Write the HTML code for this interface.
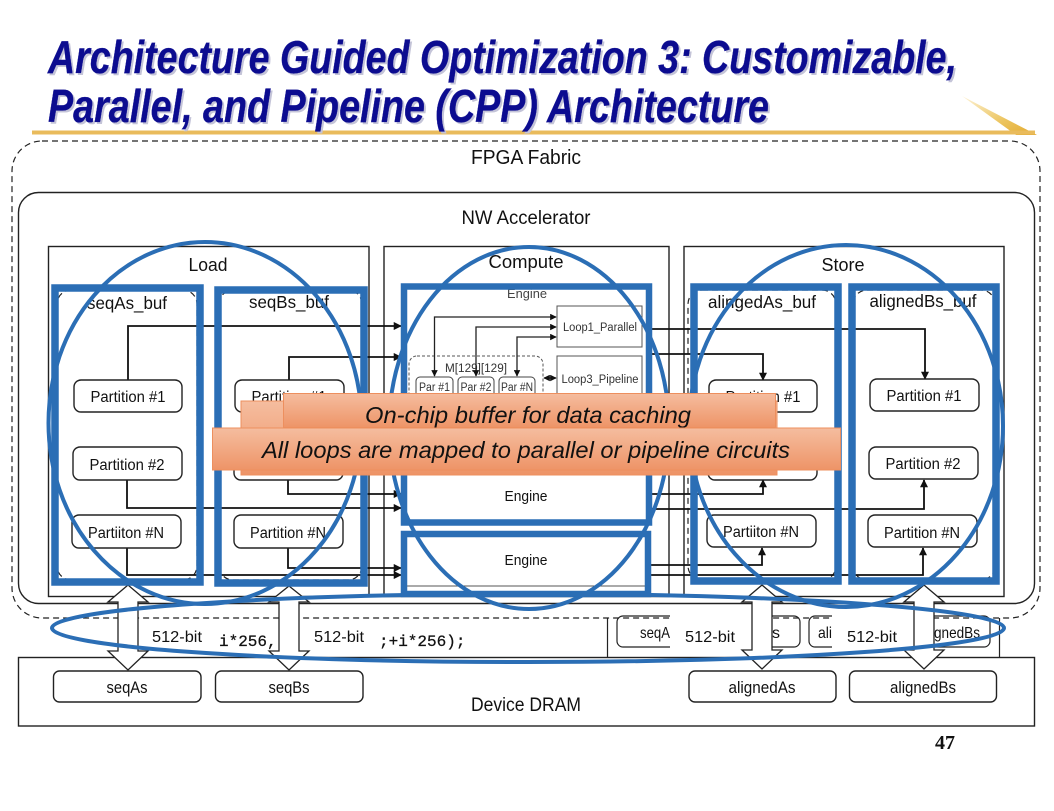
<!DOCTYPE html>
<html><head><meta charset="utf-8"><style>
html,body{margin:0;padding:0;background:#fff;width:1054px;height:811px;overflow:hidden}
svg{display:block}
text{font-family:"Liberation Sans",sans-serif;fill:#111}
.t{font-weight:bold;font-style:italic;fill:#0c0c90;font-size:46px;stroke:#0c0c90;stroke-width:.3}
.ts{font-weight:bold;font-style:italic;fill:#c4c4d8;font-size:46px}
.c{text-anchor:middle}
.m{font-size:15.5px}
.b{fill:#fff;stroke:#222;stroke-width:1.4}
.l{fill:none;stroke:#111;stroke-width:1.8}
.d{fill:none;stroke:#222;stroke-width:1.2;stroke-dasharray:6 4}
.bl{fill:none;stroke:#2b6eb5}
.s{font-size:11.5px;fill:#333}
</style></head><body>
<svg width="1054" height="811" viewBox="0 0 1054 811" xmlns="http://www.w3.org/2000/svg">
<defs>
<linearGradient id="g" x1="0" y1="0" x2="0" y2="1"><stop offset="0" stop-color="#f5bd9f"/><stop offset="1" stop-color="#ee9467"/></linearGradient>
<linearGradient id="y" x1="0" y1="0" x2="1" y2="1"><stop offset="0" stop-color="#fdf3d8"/><stop offset=".6" stop-color="#ecc45e"/><stop offset="1" stop-color="#e3a92e"/></linearGradient>
<marker id="a" viewBox="0 0 10 10" refX="9" refY="5" markerWidth="4.5" markerHeight="4.5" orient="auto-start-reverse"><path d="M0 0L10 5L0 10z" fill="#111"/></marker>
<marker id="a2" viewBox="0 0 10 10" refX="9" refY="5" markerWidth="5" markerHeight="5" orient="auto-start-reverse"><path d="M0 0L10 5L0 10z" fill="#111"/></marker>
</defs>
<rect width="1054" height="811" fill="#fff"/>

<!-- title -->
<path d="M962 96L1037 135L1016 135z" fill="url(#y)"/>
<rect x="32" y="130.500" width="1003" height="4" fill="#e9bb5c"/>
<text class="ts" x="50" y="75" textLength="909" lengthAdjust="spacingAndGlyphs">Architecture Guided Optimization 3: Customizable,</text>
<text class="ts" x="50" y="124" textLength="721" lengthAdjust="spacingAndGlyphs">Parallel, and Pipeline (CPP) Architecture</text>
<text class="t" x="48" y="73" textLength="909" lengthAdjust="spacingAndGlyphs">Architecture Guided Optimization 3: Customizable,</text>
<text class="t" x="48" y="122" textLength="721" lengthAdjust="spacingAndGlyphs">Parallel, and Pipeline (CPP) Architecture</text>

<!-- fabric -->
<rect x="12" y="141" width="1028" height="477" rx="30" class="d"/>
<text class="c" x="526" y="164" font-size="20.500" textLength="110" lengthAdjust="spacingAndGlyphs">FPGA Fabric</text>
<rect x="18.500" y="192.500" width="1016" height="411" rx="20" class="b"/>
<text class="c" x="526" y="224" font-size="19" textLength="129" lengthAdjust="spacingAndGlyphs">NW Accelerator</text>

<!-- stages -->
<rect x="48.500" y="246.500" width="320.500" height="350" class="b"/>
<rect x="384" y="246.500" width="285" height="350" class="b"/>
<rect x="684" y="246.500" width="320" height="350" class="b"/>
<text class="c" x="208" y="271" font-size="18.500" textLength="39" lengthAdjust="spacingAndGlyphs">Load</text>
<text class="c" x="526" y="268" font-size="18.500" textLength="75" lengthAdjust="spacingAndGlyphs">Compute</text>
<text class="c" x="843" y="271" font-size="18.500" textLength="43" lengthAdjust="spacingAndGlyphs">Store</text>

<!-- buffers -->
<rect x="57" y="290" width="140" height="290" rx="14" class="d"/>
<rect x="219" y="290" width="143" height="290" rx="14" class="d"/>
<rect x="688" y="290" width="148" height="290" rx="14" class="d"/>
<rect x="853" y="290" width="142" height="290" rx="14" class="d"/>
<text class="c" x="127" y="309" font-size="17.500" textLength="80" lengthAdjust="spacingAndGlyphs">seqAs_buf</text>
<text class="c" x="289" y="308" font-size="17.500" textLength="80" lengthAdjust="spacingAndGlyphs">seqBs_buf</text>
<text class="c" x="762" y="308" font-size="17.500" textLength="108" lengthAdjust="spacingAndGlyphs">alingedAs_buf</text>
<text class="c" x="923" y="307" font-size="17.500" textLength="107" lengthAdjust="spacingAndGlyphs">alignedBs_buf</text>

<!-- connectors -->
<path class="l" d="M128 380V326H401" marker-end="url(#a)"/>
<path class="l" d="M289 380V357H401" marker-end="url(#a)"/>
<path class="l" d="M127 480V508H401" marker-end="url(#a)"/>
<path class="l" d="M288 480V494H401" marker-end="url(#a)"/>
<path class="l" d="M127 548V575H401" marker-end="url(#a)"/>
<path class="l" d="M288 548V568H401" marker-end="url(#a)"/>
<path class="l" d="M650 329H925V379" marker-end="url(#a)"/>
<path class="l" d="M650 354H763V380" marker-end="url(#a)"/>
<path class="l" d="M650 494H763V480" marker-end="url(#a)"/>
<path class="l" d="M650 509H924V480" marker-end="url(#a)"/>
<path class="l" d="M650 565H762V548" marker-end="url(#a)"/>
<path class="l" d="M650 575H923V548" marker-end="url(#a)"/>

<!-- partitions -->
<g>
<rect x="74" y="380" width="108" height="32" rx="7" class="b"/><text class="c m" x="128" y="402" textLength="75" lengthAdjust="spacingAndGlyphs">Partition #1</text>
<rect x="73" y="447" width="109" height="33" rx="7" class="b"/><text class="c m" x="127" y="470" textLength="75" lengthAdjust="spacingAndGlyphs">Partition #2</text>
<rect x="72" y="515" width="109" height="33" rx="7" class="b"/><text class="c m" x="126" y="538" textLength="76" lengthAdjust="spacingAndGlyphs">Partiiton #N</text>
<rect x="235" y="380" width="109" height="32" rx="7" class="b"/><text class="c m" x="289" y="402" textLength="75" lengthAdjust="spacingAndGlyphs">Partition #1</text>
<rect x="234" y="447" width="109" height="33" rx="7" class="b"/><text class="c m" x="288" y="470" textLength="75" lengthAdjust="spacingAndGlyphs">Partition #2</text>
<rect x="234" y="515" width="109" height="33" rx="7" class="b"/><text class="c m" x="288" y="538" textLength="76" lengthAdjust="spacingAndGlyphs">Partition #N</text>
<rect x="709" y="380" width="108" height="32" rx="7" class="b"/><text class="c m" x="763" y="402" textLength="75" lengthAdjust="spacingAndGlyphs">Partition #1</text>
<rect x="708" y="447" width="109" height="33" rx="7" class="b"/><text class="c m" x="762" y="470" textLength="75" lengthAdjust="spacingAndGlyphs">Partition #2</text>
<rect x="707" y="515" width="109" height="32" rx="7" class="b"/><text class="c m" x="761" y="537" textLength="76" lengthAdjust="spacingAndGlyphs">Partiiton #N</text>
<rect x="870" y="379" width="109" height="32" rx="7" class="b"/><text class="c m" x="924" y="401" textLength="75" lengthAdjust="spacingAndGlyphs">Partition #1</text>
<rect x="869" y="447" width="109" height="32" rx="7" class="b"/><text class="c m" x="923" y="469" textLength="75" lengthAdjust="spacingAndGlyphs">Partition #2</text>
<rect x="868" y="515" width="109" height="32" rx="7" class="b"/><text class="c m" x="922" y="538" textLength="76" lengthAdjust="spacingAndGlyphs">Partition #N</text>
</g>

<!-- engine -->
<text class="c" x="527" y="298" font-size="13" textLength="40" lengthAdjust="spacingAndGlyphs" style="fill:#444">Engine</text>
<rect x="557" y="306" width="85" height="41" fill="#fff" stroke="#555" stroke-width="1"/>
<text class="c s" x="600" y="331" textLength="74" lengthAdjust="spacingAndGlyphs">Loop1_Parallel</text>
<rect x="557" y="356" width="85" height="45" fill="#fff" stroke="#555" stroke-width="1"/>
<text class="c s" x="600" y="383" textLength="77" lengthAdjust="spacingAndGlyphs">Loop3_Pipeline</text>
<rect x="409" y="356" width="134" height="50" rx="8" fill="none" stroke="#555" stroke-width="1" stroke-dasharray="3 2"/>
<text class="c s" x="476" y="372" textLength="62" lengthAdjust="spacingAndGlyphs">M[129][129]</text>
<rect x="416" y="377" width="37" height="24" rx="4" fill="#fff" stroke="#444" stroke-width="1"/><text class="c s" x="434.500" y="391" textLength="31" lengthAdjust="spacingAndGlyphs">Par #1</text>
<rect x="458" y="377" width="36" height="24" rx="4" fill="#fff" stroke="#444" stroke-width="1"/><text class="c s" x="476" y="391" textLength="31" lengthAdjust="spacingAndGlyphs">Par #2</text>
<rect x="499" y="377" width="36" height="24" rx="4" fill="#fff" stroke="#444" stroke-width="1"/><text class="c s" x="517" y="391" textLength="32" lengthAdjust="spacingAndGlyphs">Par #N</text>
<g fill="none" stroke="#222" stroke-width="1.300">
<path d="M434.500 376V317H556" marker-start="url(#a2)" marker-end="url(#a2)"/>
<path d="M476 376V327H556" marker-start="url(#a2)" marker-end="url(#a2)"/>
<path d="M517 376V337H556" marker-start="url(#a2)" marker-end="url(#a2)"/>
<path d="M544 378H556" marker-start="url(#a2)" marker-end="url(#a2)"/>
</g>
<text class="c" x="526" y="501" font-size="15" textLength="43" lengthAdjust="spacingAndGlyphs">Engine</text>
<text class="c" x="526" y="565" font-size="15" textLength="43" lengthAdjust="spacingAndGlyphs">Engine</text>
<path d="M405 586H647" stroke="#555" stroke-width="1"/>

<!-- code remnants / lower row -->
<path d="M607.500 618V657M999.500 618V657" stroke="#222" stroke-width="1.200"/>
<rect x="617" y="616" width="183" height="31" rx="6" fill="none" stroke="#222" stroke-width="1.200"/>
<rect x="809" y="616" width="181" height="31" rx="6" fill="none" stroke="#222" stroke-width="1.200"/>
<rect x="670" y="612" width="82" height="40" fill="#fff"/>
<rect x="832" y="612" width="82" height="40" fill="#fff"/>
<text x="640" y="638" font-size="16" textLength="30" lengthAdjust="spacingAndGlyphs">seqA</text>
<text x="772" y="638" font-size="16">s</text>
<text x="818" y="638" font-size="16" textLength="14" lengthAdjust="spacingAndGlyphs">ali</text>
<text x="934" y="638" font-size="16" textLength="46" lengthAdjust="spacingAndGlyphs">gnedBs</text>
<text x="219" y="646" font-size="16" style="font-family:'Liberation Mono',monospace;stroke:#111;stroke-width:.25">i*256,</text>
<text x="379" y="646" font-size="16" style="font-family:'Liberation Mono',monospace;stroke:#111;stroke-width:.25">;+i*256);</text>
<text class="c" x="177" y="642" font-size="15.500" textLength="50" lengthAdjust="spacingAndGlyphs">512-bit</text>
<text class="c" x="339" y="642" font-size="15.500" textLength="50" lengthAdjust="spacingAndGlyphs">512-bit</text>
<text class="c" x="710" y="642" font-size="15.500" textLength="50" lengthAdjust="spacingAndGlyphs">512-bit</text>
<text class="c" x="872" y="642" font-size="15.500" textLength="50" lengthAdjust="spacingAndGlyphs">512-bit</text>

<!-- DRAM -->
<rect x="18.500" y="657.500" width="1016" height="68.500" fill="#fff" stroke="#222" stroke-width="1.400"/>
<text class="c" x="526" y="711" font-size="19" textLength="110" lengthAdjust="spacingAndGlyphs">Device DRAM</text>
<rect x="53.500" y="671" width="147.500" height="31" rx="6" class="b"/><text class="c" x="127" y="693" font-size="16.500" textLength="41" lengthAdjust="spacingAndGlyphs">seqAs</text>
<rect x="215.500" y="671" width="147.500" height="31" rx="6" class="b"/><text class="c" x="289" y="693" font-size="16.500" textLength="41" lengthAdjust="spacingAndGlyphs">seqBs</text>
<rect x="689" y="671" width="147" height="31" rx="6" class="b"/><text class="c" x="762" y="693" font-size="16.500" textLength="67" lengthAdjust="spacingAndGlyphs">alignedAs</text>
<rect x="849.500" y="671" width="147" height="31" rx="6" class="b"/><text class="c" x="923" y="693" font-size="16.500" textLength="66" lengthAdjust="spacingAndGlyphs">alignedBs</text>
<text x="935" y="749" font-size="20" font-weight="bold" style="font-family:'Liberation Serif',serif">47</text>

<!-- block arrows -->
<g fill="#fff" stroke="#222" stroke-width="1.300">
<path d="M128 585L148 602H138V651H148L128 670L108 651H118V602H108z"/>
<path d="M289 586L309 602H299V651H309L289 670L269 651H279V602H269z"/>
<path d="M762 585L782 602H772V650H782L762 669L742 650H752V602H742z"/>
<path d="M924 585L944 602H934V650H944L924 669L904 650H914V602H904z"/>
</g>

<!-- blue highlights -->
<g class="bl">
<rect x="55" y="288" width="145" height="294" stroke-width="7.500"/>
<rect x="218" y="290" width="146" height="293" stroke-width="7.500"/>
<rect x="404" y="286.500" width="245" height="236" stroke-width="6.500"/>
<rect x="404" y="534" width="244" height="60" stroke-width="6.500"/>
<rect x="694" y="287" width="144" height="294" stroke-width="7.500"/>
<rect x="852" y="287" width="144" height="294" stroke-width="7.500"/>
<ellipse cx="205" cy="423" rx="156.500" ry="181" stroke-width="4"/>
<ellipse cx="529" cy="428" rx="140" ry="181" stroke-width="4"/>
<ellipse cx="846" cy="426" rx="157" ry="181" stroke-width="4"/>
<ellipse cx="528" cy="628" rx="476" ry="34" stroke-width="4"/>
</g>

<!-- banners -->
<rect x="241" y="401" width="536" height="74" fill="url(#g)" stroke="#ed8f5e" stroke-width="1"/>
<rect x="283.500" y="393.500" width="492" height="34" fill="url(#g)" stroke="#ed8f5e" stroke-width="1"/>
<text class="c" x="528" y="423" font-size="23.500" font-style="italic" textLength="326" lengthAdjust="spacingAndGlyphs">On-chip buffer for data caching</text>
<rect x="212.500" y="428" width="628" height="42" fill="url(#g)" stroke="#ed8f5e" stroke-width="1"/>
<text class="c" x="526" y="458" font-size="23.500" font-style="italic" textLength="528" lengthAdjust="spacingAndGlyphs">All loops are mapped to parallel or pipeline circuits</text>
</svg>
</body></html>
